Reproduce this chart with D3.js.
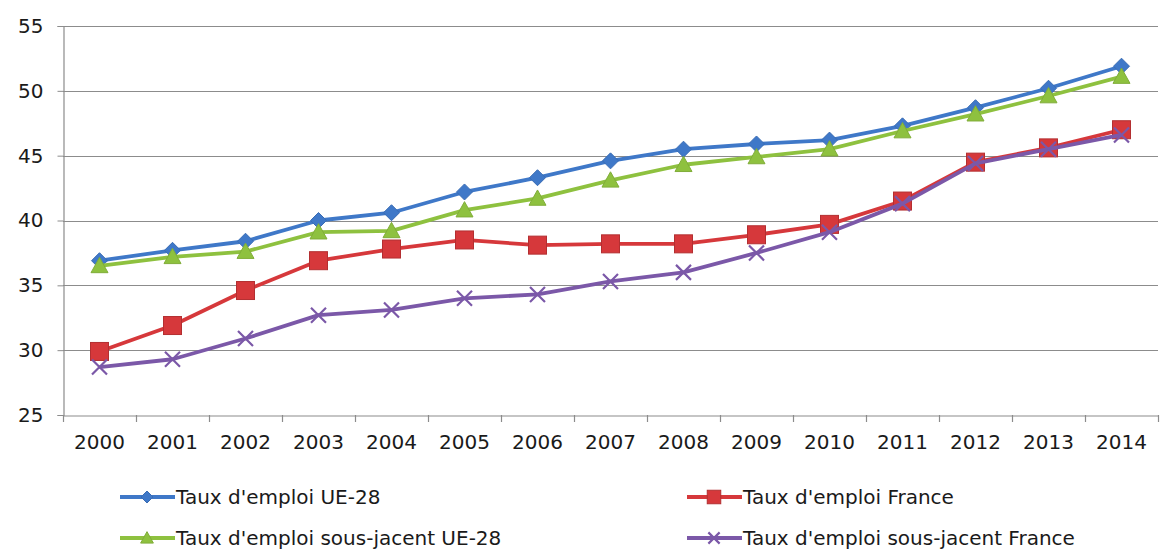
<!DOCTYPE html>
<html><head><meta charset="utf-8">
<script src="https://cdn.jsdelivr.net/npm/d3@7"></script>
<style>body{margin:0;background:#fff}svg{display:block}</style>
</head><body>
<svg id="c" width="1160" height="553"></svg>
<script>
const years = ["2000","2001","2002","2003","2004","2005","2006","2007","2008","2009","2010","2011","2012","2013","2014"];
const yTicks = [25,30,35,40,45,50,55];
const tauxUE = [36.9,37.7,38.4,40.0,40.6,42.2,43.3,44.6,45.5,45.9,46.2,47.3,48.7,50.2,51.9];
const tauxFR = [29.9,31.9,34.6,36.9,37.8,38.5,38.1,38.2,38.2,38.9,39.7,41.5,44.5,45.6,47.0];
const sousUE = [36.5,37.2,37.6,39.1,39.2,40.8,41.7,43.1,44.3,44.9,45.5,46.9,48.2,49.6,51.1];
const sousFR = [28.7,29.3,30.9,32.7,33.1,34.0,34.3,35.3,36.0,37.5,39.1,41.3,44.4,45.5,46.6];
const seriesNames = ["Taux d'emploi UE-28","Taux d'emploi France","Taux d'emploi sous-jacent UE-28","Taux d'emploi sous-jacent France"];

const series = [
  {name:seriesNames[0], values:tauxUE, color:"#3f78c8", marker:"diamond"},
  {name:seriesNames[1], values:tauxFR, color:"#d6383b", marker:"square"},
  {name:seriesNames[2], values:sousUE, color:"#8ec13f", marker:"triangle"},
  {name:seriesNames[3], values:sousFR, color:"#7b58a8", marker:"x"}
];

const svg = d3.select("#c");
const L=63, R=1158, T=26, B=415;
const x = d3.scaleBand().domain(years).range([L,R]);
const y = d3.scaleLinear().domain([25,55]).range([B,T]);
const font = "DejaVu Sans";
const fs = 20;

// gridlines
svg.append("g").selectAll("line").data(yTicks.slice(1)).join("line")
  .attr("x1",L).attr("x2",R).attr("y1",d=>Math.round(y(d))+0.5).attr("y2",d=>Math.round(y(d))+0.5)
  .attr("stroke","#8c8c8c").attr("stroke-width",1.2);

// y axis
const ya = svg.append("g").attr("transform",`translate(${L+0.5},0)`)
  .call(d3.axisLeft(y).tickValues(yTicks).tickSize(6).tickPadding(14));
ya.select(".domain").attr("stroke","#8c8c8c").attr("stroke-width",1.2);
ya.selectAll(".tick line").attr("stroke","#8c8c8c");
ya.selectAll("text").attr("font-family",font).attr("font-size",fs).attr("fill","#1a1a1a");

// x axis
const xa = svg.append("g").attr("transform",`translate(0,${Math.round(B)+0.5})`)
  .call(d3.axisBottom(x).tickSize(0).tickPadding(19));
xa.select(".domain").attr("stroke","#8c8c8c").attr("stroke-width",1.2);
xa.selectAll("text").attr("font-family",font).attr("font-size",fs).attr("fill","#1a1a1a");
// band boundary ticks
const bounds = years.map(d=>x(d)).concat([R]);
svg.append("g").selectAll("line").data(bounds).join("line")
  .attr("x1",d=>Math.round(d)+0.5).attr("x2",d=>Math.round(d)+0.5)
  .attr("y1",B).attr("y2",B+7).attr("stroke","#8c8c8c").attr("stroke-width",1.2);

function drawMarker(g, type, cx, cy, color, scale){
  const s = scale||1;
  if(type==="diamond"){
    const r=8*s;
    g.append("path").attr("d",`M${cx},${cy-r}L${cx+r},${cy}L${cx},${cy+r}L${cx-r},${cy}Z`)
      .attr("fill",color).attr("stroke",d3.color(color).darker(0.3)).attr("stroke-width",1);
  } else if(type==="square"){
    const r=9*s;
    g.append("rect").attr("x",cx-r).attr("y",cy-r).attr("width",2*r).attr("height",2*r)
      .attr("fill",color).attr("stroke",d3.color(color).darker(0.5)).attr("stroke-width",1);
  } else if(type==="triangle"){
    const r=8.5*s;
    g.append("path").attr("d",`M${cx},${cy-r}L${cx+r},${cy+r*0.8}L${cx-r},${cy+r*0.8}Z`)
      .attr("fill",color).attr("stroke",d3.color(color).darker(0.3)).attr("stroke-width",1);
  } else {
    const r=7.5*s;
    g.append("path").attr("d",`M${cx-r},${cy-r}L${cx+r},${cy+r}M${cx+r},${cy-r}L${cx-r},${cy+r}`)
      .attr("stroke",color).attr("stroke-width",2.2).attr("fill","none");
  }
}

const line = d3.line().x((d,i)=>x(years[i])+x.bandwidth()/2).y(d=>y(d));
series.forEach(s=>{
  const g = svg.append("g");
  g.append("path").attr("d",line(s.values)).attr("fill","none")
    .attr("stroke",s.color).attr("stroke-width",3.8).attr("stroke-linejoin","round");
  s.values.forEach((v,i)=>drawMarker(g,s.marker,x(years[i])+x.bandwidth()/2,y(v),s.color));
});

// legend
const legPos = [[120,497],[687,497],[120,538],[687,538]];
series.forEach((s,i)=>{
  const [lx,ly]=legPos[i];
  const g = svg.append("g");
  g.append("line").attr("x1",lx).attr("x2",lx+55).attr("y1",ly).attr("y2",ly)
    .attr("stroke",s.color).attr("stroke-width",3.8);
  drawMarker(g,s.marker,lx+27,ly,s.color,0.75);
  g.append("text").attr("x",lx+56).attr("y",ly).attr("dy","0.35em")
    .attr("font-family",font).attr("font-size",fs).attr("fill","#1a1a1a").text(s.name);
});
</script>
</body></html>
